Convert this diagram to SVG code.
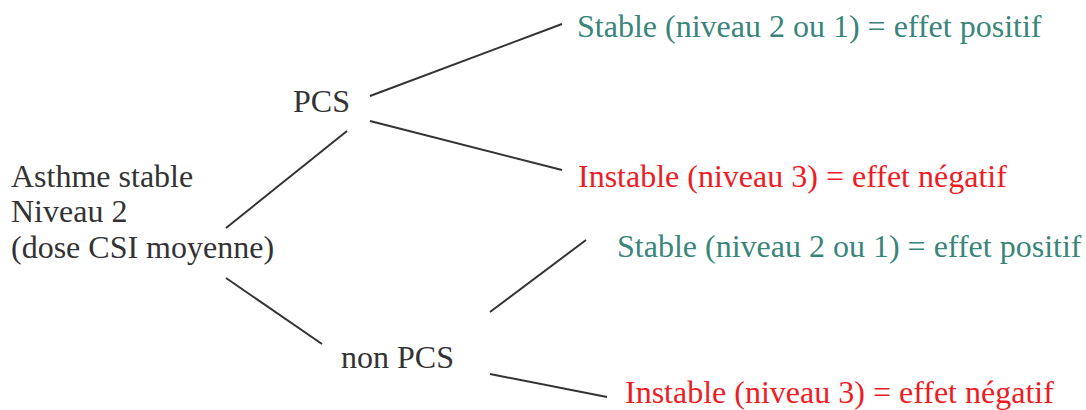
<svg xmlns="http://www.w3.org/2000/svg" width="1086" height="410" viewBox="0 0 1086 410">
<style>
text{font-family:"Liberation Serif","Times New Roman",serif;font-size:32px}
.k{fill:#333333}
.g{fill:#3a8579}
.r{fill:#ee1c25}
.c line{stroke:#333333;stroke-width:2}
</style>
<rect width="1086" height="410" fill="#ffffff"/>
<g class="c" id="connectors">
<line x1="226" y1="228" x2="347" y2="131"/>
<line x1="226" y1="278" x2="322" y2="344"/>
<line x1="370" y1="96" x2="562" y2="24"/>
<line x1="370" y1="121" x2="562" y2="170"/>
<line x1="490" y1="312" x2="586" y2="240"/>
<line x1="490" y1="374" x2="607" y2="397"/>
</g>
<g id="root"><text class="k" x="11" y="187">Asthme stable</text><text class="k" x="11" y="222">Niveau 2</text><text class="k" x="11" y="258">(dose CSI moyenne)</text></g>
<g id="pcs"><text class="k" x="293" y="112">PCS</text></g>
<g id="nonpcs"><text class="k" x="341" y="368">non PCS</text></g>
<g id="pcs-stable"><text class="g" x="577" y="37">Stable (niveau 2 ou 1) = effet positif</text></g>
<g id="pcs-instable"><text class="r" x="578" y="187">Instable (niveau 3) = effet négatif</text></g>
<g id="nonpcs-stable"><text class="g" x="617" y="257">Stable (niveau 2 ou 1) = effet positif</text></g>
<g id="nonpcs-instable"><text class="r" x="625" y="403">Instable (niveau 3) = effet négatif</text></g>
</svg>
